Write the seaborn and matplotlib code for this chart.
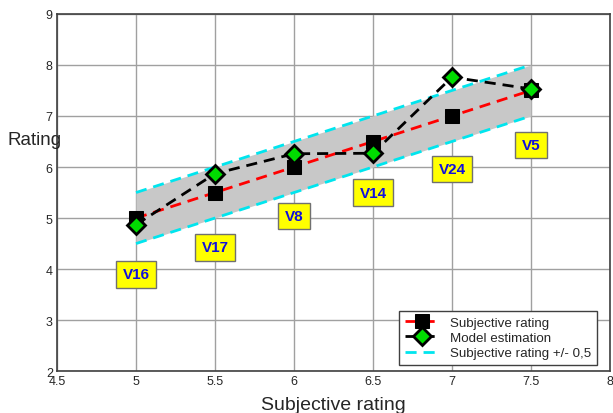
import numpy as np
import pandas as pd
import matplotlib
matplotlib.use("Agg")
import matplotlib.pyplot as plt
import seaborn as sns

# Stimulus data
videos = ["V16", "V17", "V8", "V14", "V24", "V5"]
subjective = [5.0, 5.5, 6.0, 6.5, 7.0, 7.5]
model = [4.87, 5.87, 6.26, 6.27, 7.76, 7.53]
label_y = [3.9, 4.43, 5.04, 5.5, 5.96, 6.43]
tolerance = 0.5

df = pd.DataFrame({"video": videos, "subjective": subjective, "model": model})
df["upper"] = df["subjective"] + tolerance
df["lower"] = df["subjective"] - tolerance

sns.set_style("white")
plt.rcParams["font.family"] = ["Liberation Sans", "DejaVu Sans"]

fig = plt.figure(figsize=(6.13, 4.14), dpi=100)
ax = fig.add_axes([0.093, 0.101, 0.902, 0.863])

ax.fill_between(df["subjective"], df["lower"], df["upper"], color="#c8c8c8", zorder=1, lw=0)
sns.lineplot(data=df, x="subjective", y="upper", ax=ax, color="#00e5ee", lw=2,
             linestyle=(0, (4, 2.5)), zorder=2, label="Subjective rating +/- 0,5")
sns.lineplot(data=df, x="subjective", y="lower", ax=ax, color="#00e5ee", lw=2,
             linestyle=(0, (4, 2.5)), zorder=2, label="_nolegend_")
sns.lineplot(data=df, x="subjective", y="subjective", ax=ax, color="red", lw=2,
             linestyle=(0, (4, 2.5)), marker="s", markersize=10, markerfacecolor="black",
             markeredgecolor="black", zorder=3, label="Subjective rating")
sns.lineplot(data=df, x="subjective", y="model", ax=ax, color="black", lw=2,
             linestyle=(0, (4, 2.5)), marker="D", markersize=9, markerfacecolor="#00dd00",
             markeredgecolor="black", markeredgewidth=2, zorder=4, label="Model estimation")

for name, xv, yv in zip(videos, subjective, label_y):
    ax.text(xv, yv, name, color="#1010dd", fontsize=11, fontweight="bold",
            ha="center", va="center", zorder=5,
            bbox=dict(boxstyle="square,pad=0.42", facecolor="yellow", edgecolor="#707070", lw=1))

ax.set_xlim(4.5, 8)
ax.set_ylim(2, 9)
ax.set_xticks(np.arange(4.5, 8.01, 0.5))
ax.set_xticklabels(["4.5", "5", "5.5", "6", "6.5", "7", "7.5", "8"])
ax.set_yticks(np.arange(2, 10, 1))
ax.tick_params(labelsize=9, length=0, pad=3)
ax.grid(True, color="#a0a0a0", lw=1)
for s in ax.spines.values():
    s.set_color("#404040")
    s.set_linewidth(1.2)

ax.set_xlabel("Subjective rating", fontsize=14, labelpad=6)
ax.set_ylabel("")
fig.text(0.013, 0.66, "Rating", fontsize=13.5, ha="left", va="center")

handles, labels = ax.get_legend_handles_labels()
order = [labels.index("Subjective rating"), labels.index("Model estimation"),
         labels.index("Subjective rating +/- 0,5")]
leg = ax.legend([handles[i] for i in order], [labels[i] for i in order],
                loc="lower right", bbox_to_anchor=(0.988, 0.0), fontsize=9.6,
                frameon=True, fancybox=False, framealpha=1, edgecolor="#404040",
                borderpad=0.4, labelspacing=0.22, handlelength=2.6)
leg.get_frame().set_linewidth(1)

fig.savefig("out.png", dpi=100)
